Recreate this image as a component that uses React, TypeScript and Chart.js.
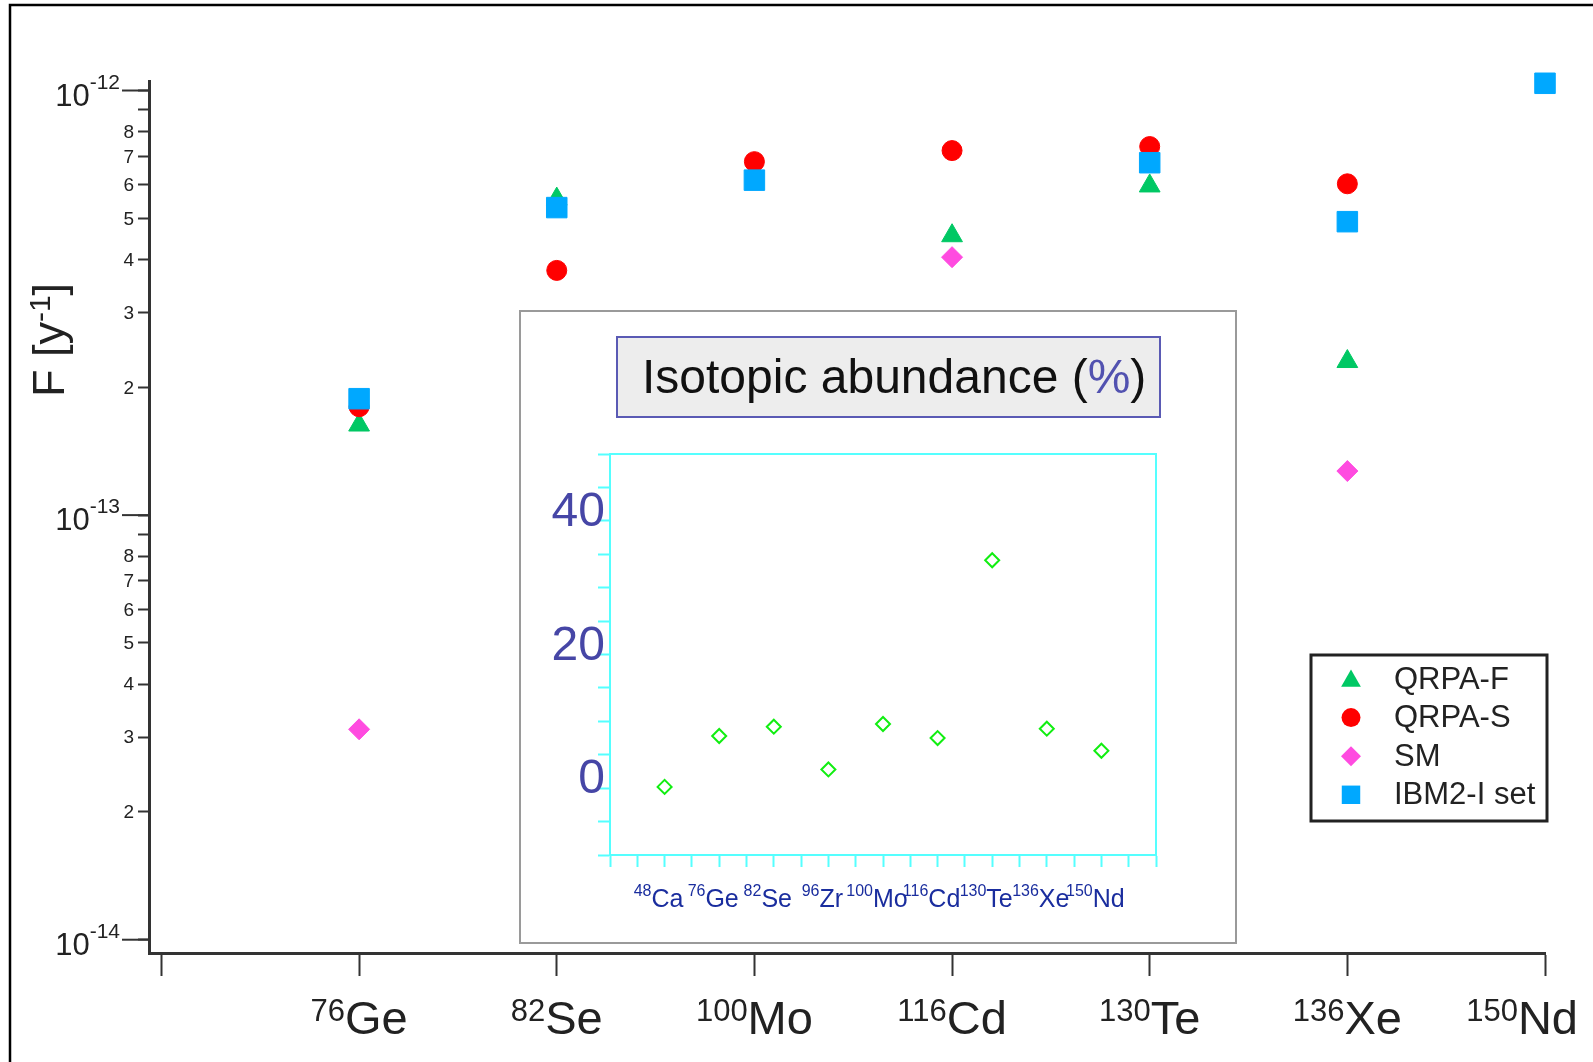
import React, { useEffect, useRef } from 'react';
import { Chart, registerables } from 'chart.js';

Chart.register(...registerables);

// ---------------- main chart data ----------------
const nuclei = ['Ge', 'Se', 'Mo', 'Cd', 'Te', 'Xe', 'Nd'];
const massNumbers = ['76', '82', '100', '116', '130', '136', '150'];
const seriesLabels = ['QRPA-F', 'QRPA-S', 'SM', 'IBM2-I set'];
const qrpaF = [1.63e-13, 5.55e-13, null, 4.55e-13, 5.96e-13, 2.3e-13, null];
const qrpaS = [1.8e-13, 3.77e-13, 6.8e-13, 7.22e-13, 7.38e-13, 6.03e-13, null];
const smValues = [3.13e-14, null, null, 4.05e-13, null, 1.27e-13, null];
const ibm2 = [1.88e-13, 5.3e-13, 6.15e-13, null, 6.76e-13, 4.91e-13, 1.04e-12];

const yDecades = [1e-14, 1e-13, 1e-12];
const yDecadeExponents = ['-14', '-13', '-12'];
const yMinorMantissas = [2, 3, 4, 5, 6, 7, 8, 9];
const yMinorLabels = ['2', '3', '4', '5', '6', '7', '8', ''];
const xTickValues = [0, 1, 2, 3, 4, 5, 6, 7];

// ---------------- inset data ----------------
const insetNuclei = ['Ca', 'Ge', 'Se', 'Zr', 'Mo', 'Cd', 'Te', 'Xe', 'Nd'];
const insetMassNumbers = ['48', '76', '82', '96', '100', '116', '130', '136', '150'];
const abundance = [0.187, 7.8, 9.2, 2.8, 9.6, 7.5, 34.1, 8.9, 5.6];
const insetYLabels = [0, 20, 40];

// ---------------- styling ----------------
const FONT = '"Liberation Sans", Arial, Helvetica, sans-serif';
const INK = '#222222';
const AXIS = '#333333';
const CYAN = '#55ffff';

const Y_MIN = Math.pow(10, -14.0313);
const Y_MAX = Math.pow(10, -11.9776);
const X_MIN = -0.063;
const X_MAX = 7;

const seriesStyles = [
  { style: 'triangle', color: '#00c864', radius: 12, order: 4 },
  { style: 'circle', color: '#ff0000', radius: 10, order: 3 },
  { style: 'rectRot', color: '#ff4be0', radius: 10.5, order: 2 },
  { style: 'rect', color: '#00a8ff', radius: 14.5, order: 1 },
];
const seriesValues = [qrpaF, qrpaS, smValues, ibm2];

function yTickValues(): number[] {
  const out: number[] = [];
  yDecades.forEach((d, i) => {
    out.push(d);
    if (i < yDecades.length - 1) yMinorMantissas.forEach((m) => out.push(m * d));
  });
  return out;
}

function drawMarker(ctx: CanvasRenderingContext2D, style: string, x: number, y: number, r: number, color: string) {
  ctx.fillStyle = color;
  ctx.beginPath();
  if (style === 'triangle') {
    ctx.moveTo(x, y - r);
    ctx.lineTo(x + r * 0.866, y + r * 0.5);
    ctx.lineTo(x - r * 0.866, y + r * 0.5);
    ctx.closePath();
  } else if (style === 'circle') {
    ctx.arc(x, y, r, 0, Math.PI * 2);
  } else if (style === 'rectRot') {
    ctx.moveTo(x - r, y);
    ctx.lineTo(x, y - r);
    ctx.lineTo(x + r, y);
    ctx.lineTo(x, y + r);
    ctx.closePath();
  } else {
    const s = r * Math.SQRT1_2;
    ctx.rect(x - s, y - s, 2 * s, 2 * s);
  }
  ctx.fill();
}

const mainPlugin = {
  id: 'mainDecor',
  afterDraw(chart: any) {
    const { ctx, chartArea } = chart;
    const xs = chart.scales.x;
    const ys = chart.scales.y;
    const left = chartArea.left;
    ctx.save();

    // outer frame
    ctx.strokeStyle = '#000';
    ctx.lineWidth = 2.5;
    ctx.strokeRect(10, 5, 3000, 3000);

    // y-axis decade ticks + labels
    ctx.fillStyle = INK;
    ctx.strokeStyle = AXIS;
    ctx.lineWidth = 2;
    yDecades.forEach((d, i) => {
      const py = ys.getPixelForValue(d);
      ctx.beginPath();
      ctx.moveTo(left - 27, py);
      ctx.lineTo(left, py);
      ctx.stroke();
      ctx.textAlign = 'right';
      ctx.textBaseline = 'alphabetic';
      ctx.font = `21px ${FONT}`;
      const supRight = left - 29;
      ctx.fillText(yDecadeExponents[i], supRight, py - 2);
      const supW = ctx.measureText(yDecadeExponents[i]).width;
      ctx.font = `31px ${FONT}`;
      ctx.fillText('10', supRight - supW, py + 15);
    });
    // minor labels
    ctx.font = `19px ${FONT}`;
    ctx.textAlign = 'right';
    ctx.textBaseline = 'middle';
    yDecades.slice(0, -1).forEach((d) => {
      yMinorMantissas.forEach((m, j) => {
        const lab = yMinorLabels[j];
        if (!lab) return;
        const py = ys.getPixelForValue(m * d);
        ctx.fillText(lab, left - 15, py + 1);
      });
    });

    // x labels with superscript mass numbers
    const base = chartArea.bottom + 81;
    ctx.textAlign = 'left';
    ctx.textBaseline = 'alphabetic';
    nuclei.forEach((n, i) => {
      const px = xs.getPixelForValue(i + 1);
      ctx.font = `31px ${FONT}`;
      const sw = ctx.measureText(massNumbers[i]).width;
      ctx.font = `47px ${FONT}`;
      const mw = ctx.measureText(n).width;
      let x0 = px - (sw + mw) / 2;
      if (x0 + sw + mw > chart.width - 15) x0 = chart.width - 15 - sw - mw;
      ctx.font = `31px ${FONT}`;
      ctx.fillText(massNumbers[i], x0, base - 13);
      ctx.font = `47px ${FONT}`;
      ctx.fillText(n, x0 + sw, base);
    });

    // y-axis title  F [y^-1]
    ctx.save();
    ctx.translate(64, 340);
    ctx.rotate(-Math.PI / 2);
    ctx.font = `45px ${FONT}`;
    const p1 = 'F [y';
    const p3 = ']';
    const w1 = ctx.measureText(p1).width;
    const w3 = ctx.measureText(p3).width;
    ctx.font = `30px ${FONT}`;
    const w2 = ctx.measureText('-1').width;
    let tx = -(w1 + w2 + w3) / 2;
    ctx.textAlign = 'left';
    ctx.font = `45px ${FONT}`;
    ctx.fillText(p1, tx, 0);
    tx += w1;
    ctx.font = `30px ${FONT}`;
    ctx.fillText('-1', tx, -14);
    tx += w2;
    ctx.font = `45px ${FONT}`;
    ctx.fillText(p3, tx, 0);
    ctx.restore();

    // legend
    ctx.strokeStyle = INK;
    ctx.lineWidth = 3;
    ctx.fillStyle = '#fff';
    ctx.fillRect(1311, 655, 236, 166);
    ctx.strokeRect(1311, 655, 236, 166);
    ctx.textAlign = 'left';
    ctx.textBaseline = 'middle';
    seriesLabels.forEach((lab, i) => {
      const y = 679 + i * 38.6;
      const st = seriesStyles[i];
      drawMarker(ctx, st.style, 1351, y + (st.style === 'triangle' ? 2 : 0), st.radius * (st.style === 'rect' ? 0.9 : 0.95), st.color);
      ctx.fillStyle = INK;
      ctx.font = `31px ${FONT}`;
      ctx.fillText(lab, 1394, y + 1);
    });

    ctx.restore();
  },
};

function mainConfig(): any {
  const ticksY = yTickValues();
  return {
    type: 'scatter',
    data: {
      datasets: seriesLabels.map((label, k) => ({
        label,
        data: seriesValues[k]
          .map((v, i) => (v === null ? null : { x: i + 1, y: v }))
          .filter((p) => p !== null),
        pointStyle: seriesStyles[k].style,
        pointRadius: seriesStyles[k].radius,
        backgroundColor: seriesStyles[k].color,
        borderColor: seriesStyles[k].color,
        borderWidth: 1,
        order: seriesStyles[k].order,
        clip: false,
        showLine: false,
      })),
    },
    options: {
      responsive: false,
      animation: false,
      events: [],
      layout: { padding: { top: 81, right: 48, left: 0, bottom: 0 } },
      plugins: { legend: { display: false }, tooltip: { enabled: false }, title: { display: false } },
      scales: {
        x: {
          type: 'linear',
          bounds: 'data',
          min: X_MIN,
          max: X_MAX,
          afterBuildTicks: (s: any) => {
            s.ticks = xTickValues.map((v) => ({ value: v }));
          },
          afterFit: (s: any) => {
            s.height = 109;
          },
          grid: { display: true, drawOnChartArea: false, drawTicks: true, tickLength: 23, tickColor: AXIS, tickWidth: 2 },
          border: { display: true, color: AXIS, width: 3 },
          ticks: { display: true, autoSkip: false, callback: () => '', color: 'rgba(0,0,0,0)' },
        },
        y: {
          type: 'logarithmic',
          bounds: 'data',
          min: Y_MIN,
          max: Y_MAX,
          afterBuildTicks: (s: any) => {
            s.ticks = ticksY.map((v) => ({ value: v }));
          },
          afterFit: (s: any) => {
            s.width = 149;
          },
          grid: { display: true, drawOnChartArea: false, drawTicks: true, tickLength: 11, tickColor: AXIS, tickWidth: 2 },
          border: { display: true, color: AXIS, width: 3 },
          ticks: { display: true, autoSkip: false, callback: () => '', color: 'rgba(0,0,0,0)' },
        },
      },
    },
    plugins: [mainPlugin],
  };
}

const insetPlugin = {
  id: 'insetDecor',
  beforeDraw(chart: any) {
    const { ctx, width, height } = chart;
    ctx.save();
    ctx.fillStyle = '#fff';
    ctx.fillRect(0, 0, width, height);
    ctx.strokeStyle = '#9a9a9a';
    ctx.lineWidth = 2;
    ctx.strokeRect(1, 1, width - 2, height - 2);

    // title box
    ctx.fillStyle = '#ededed';
    ctx.fillRect(98, 27, 543, 80);
    ctx.strokeStyle = '#5a5ab4';
    ctx.lineWidth = 2;
    ctx.strokeRect(98, 27, 543, 80);
    ctx.font = `48px ${FONT}`;
    ctx.textAlign = 'left';
    ctx.textBaseline = 'alphabetic';
    let tx = 123;
    const parts = [
      ['Isotopic abundance (', '#111111'],
      ['%', '#5252b0'],
      [')', '#111111'],
    ];
    parts.forEach(([t, c]) => {
      ctx.fillStyle = c;
      ctx.fillText(t, tx, 83);
      tx += ctx.measureText(t).width;
    });
    ctx.restore();
  },
  afterDraw(chart: any) {
    const { ctx, chartArea } = chart;
    const xs = chart.scales.x;
    ctx.save();
    ctx.strokeStyle = CYAN;
    ctx.lineWidth = 2;
    ctx.beginPath();
    ctx.moveTo(chartArea.left, chartArea.top);
    ctx.lineTo(chartArea.right, chartArea.top);
    ctx.lineTo(chartArea.right, chartArea.bottom);
    ctx.stroke();

    const base = chartArea.bottom + 52;
    ctx.fillStyle = '#1a2d9e';
    ctx.textAlign = 'left';
    ctx.textBaseline = 'alphabetic';
    insetNuclei.forEach((n, i) => {
      const px = xs.getPixelForValue(i) - 6;
      ctx.font = `16px ${FONT}`;
      const sw = ctx.measureText(insetMassNumbers[i]).width;
      ctx.font = `25px ${FONT}`;
      const mw = ctx.measureText(n).width;
      const x0 = px - (sw + mw) / 2;
      ctx.font = `16px ${FONT}`;
      ctx.fillText(insetMassNumbers[i], x0, base - 11);
      ctx.font = `25px ${FONT}`;
      ctx.fillText(n, x0 + sw, base);
    });
    ctx.restore();
  },
};

function insetConfig(): any {
  const xt: number[] = [];
  for (let v = -1; v <= 9.001; v += 0.5) xt.push(Math.round(v * 2) / 2);
  const yt: number[] = [];
  for (let v = -10; v <= 50; v += 5) yt.push(v);
  return {
    type: 'scatter',
    data: {
      datasets: [
        {
          label: 'Isotopic abundance (%)',
          data: abundance.map((v, i) => ({ x: i, y: v })),
          pointStyle: 'rectRot',
          pointRadius: 7,
          backgroundColor: 'rgba(0,0,0,0)',
          borderColor: '#11ee11',
          borderWidth: 2,
          showLine: false,
        },
      ],
    },
    options: {
      responsive: false,
      animation: false,
      events: [],
      layout: { padding: { top: 144, right: 81, left: 0, bottom: 0 } },
      plugins: { legend: { display: false }, tooltip: { enabled: false } },
      scales: {
        x: {
          type: 'linear',
          bounds: 'data',
          min: -1,
          max: 9,
          afterBuildTicks: (s: any) => {
            s.ticks = xt.map((v) => ({ value: v }));
          },
          afterFit: (s: any) => {
            s.height = 89;
          },
          grid: { display: true, drawOnChartArea: false, drawTicks: true, tickLength: 12, tickColor: CYAN, tickWidth: 2 },
          border: { display: true, color: CYAN, width: 2 },
          ticks: { display: true, autoSkip: false, callback: () => '', color: 'rgba(0,0,0,0)' },
        },
        y: {
          type: 'linear',
          bounds: 'data',
          min: -10,
          max: 50,
          afterBuildTicks: (s: any) => {
            s.ticks = yt.map((v) => ({ value: v }));
          },
          afterFit: (s: any) => {
            s.width = 91;
          },
          grid: { display: true, drawOnChartArea: false, drawTicks: true, tickLength: 12, tickColor: CYAN, tickWidth: 2 },
          border: { display: true, color: CYAN, width: 2 },
          ticks: {
            display: true,
            autoSkip: false,
            padding: -7,
            labelOffset: -8,
            color: '#4646a6',
            font: { family: FONT, size: 48 },
            callback: (v: number) => (insetYLabels.includes(v) ? String(v) : ''),
          },
        },
      },
    },
    plugins: [insetPlugin],
  };
}

export default function App() {
  const mainRef = useRef<HTMLCanvasElement>(null);
  const insetRef = useRef<HTMLCanvasElement>(null);
  useEffect(() => {
    document.body.style.margin = '0';
    document.body.style.overflow = 'hidden';
    const main = new Chart(mainRef.current as HTMLCanvasElement, mainConfig());
    const inset = new Chart(insetRef.current as HTMLCanvasElement, insetConfig());
    return () => {
      main.destroy();
      inset.destroy();
    };
  }, []);
  return (
    <div style={{ position: 'relative', width: 1593, height: 1062, background: '#fff', overflow: 'hidden' }}>
      <canvas ref={mainRef} width={1593} height={1062} style={{ position: 'absolute', left: 0, top: 0 }} />
      <canvas
        ref={insetRef}
        width={718}
        height={634}
        style={{ position: 'absolute', left: 519, top: 310, background: '#fff' }}
      />
    </div>
  );
}
